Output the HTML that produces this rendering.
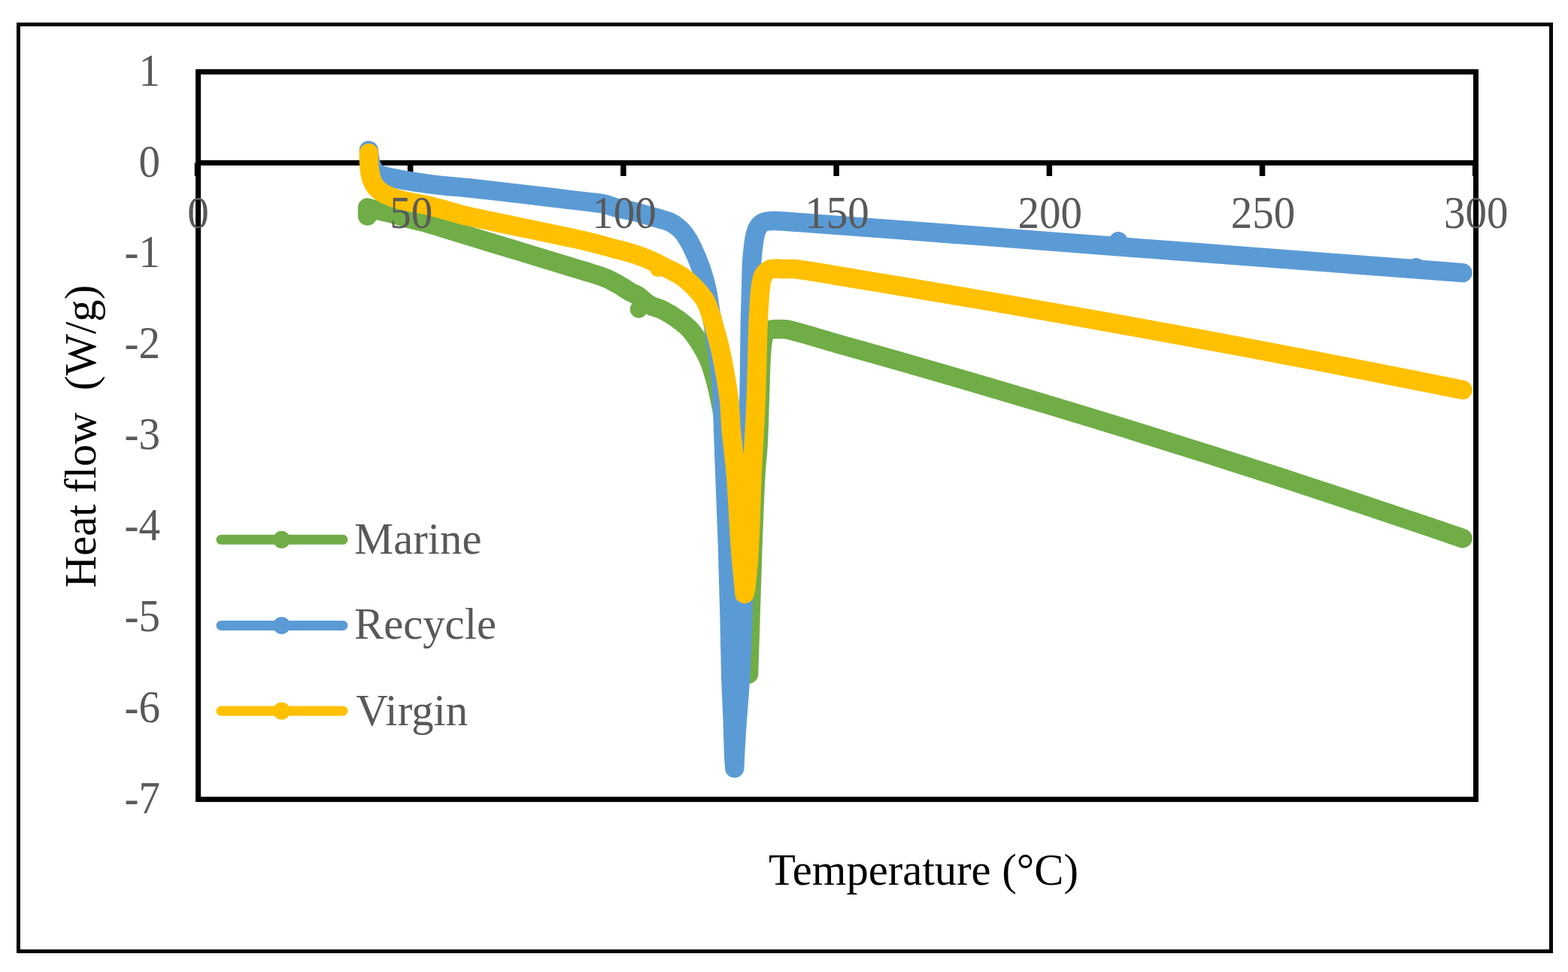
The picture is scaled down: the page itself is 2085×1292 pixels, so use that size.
<!DOCTYPE html>
<html><head><meta charset="utf-8"><style>
html,body{margin:0;padding:0;background:#fff;}
svg{display:block;}
text{font-family:"Liberation Serif","Times New Roman",serif;}
</style></head><body>
<svg width="2085" height="1292" viewBox="0 0 2085 1292">
<rect x="0" y="0" width="2085" height="1292" fill="#fff"/>
<rect x="24.5" y="32.5" width="2038" height="1232" fill="none" stroke="#000" stroke-width="5"/>
<rect x="263.5" y="95.5" width="1699" height="967" fill="none" stroke="#000" stroke-width="7"/>
<line x1="263.5" y1="216.5" x2="1962.5" y2="216.5" stroke="#000" stroke-width="7"/>
<line x1="262.5" y1="216.5" x2="262.5" y2="234" stroke="#000" stroke-width="7.5"/>
<line x1="545.7" y1="216.5" x2="545.7" y2="234" stroke="#000" stroke-width="7.5"/>
<line x1="828.9" y1="216.5" x2="828.9" y2="234" stroke="#000" stroke-width="7.5"/>
<line x1="1112.1" y1="216.5" x2="1112.1" y2="234" stroke="#000" stroke-width="7.5"/>
<line x1="1395.3" y1="216.5" x2="1395.3" y2="234" stroke="#000" stroke-width="7.5"/>
<line x1="1678.5" y1="216.5" x2="1678.5" y2="234" stroke="#000" stroke-width="7.5"/>
<line x1="1961.7" y1="216.5" x2="1961.7" y2="234" stroke="#000" stroke-width="7.5"/>
<g>
<path d="M488.6,287.0 C488.6,283.3 488.6,279.7 488.6,276.0 C492.4,277.0 496.2,278.1 500.0,279.0 C506.5,280.6 513.1,281.8 519.5,283.5 C527.8,285.7 536.0,288.5 544.3,290.8 C552.5,293.0 560.9,294.7 569.1,297.0 C577.4,299.3 585.6,302.0 593.8,304.5 C602.5,307.2 611.3,309.9 620.0,312.6 C646.7,320.7 673.3,328.8 700.0,336.9 C726.7,345.0 753.4,353.0 780.0,361.2 C788.3,363.8 796.7,366.1 804.8,369.3 C810.8,371.7 816.4,374.8 822.0,378.0 C827.5,381.1 832.5,384.9 838.0,388.0 C841.6,390.0 845.6,391.2 849.0,393.5 C852.6,395.9 855.5,399.4 859.0,402.0 C861.5,403.9 864.1,405.7 867.0,407.0 C871.2,408.9 875.9,409.4 880.0,411.5 C887.0,415.0 893.7,418.9 900.0,423.5 C907.1,428.8 914.5,434.1 920.0,441.0 C928.3,451.4 935.2,463.0 941.0,475.0 C945.9,485.2 948.8,496.4 951.8,507.3 C954.8,518.1 956.9,529.2 959.1,540.2 C961.7,553.4 964.1,566.7 966.0,580.0 C968.4,596.6 970.1,613.3 972.0,630.0 C974.7,653.3 977.7,676.6 980.0,700.0 C982.7,726.6 984.9,753.3 987.0,780.0 C988.9,803.3 990.3,826.7 992.0,850.0 C993.1,865.3 994.3,880.7 995.5,896.0 C996.3,870.7 997.2,845.3 998.0,820.0 C999.0,790.0 999.7,760.0 1000.8,730.0 C1002.0,696.7 1003.2,663.3 1005.0,630.0 C1005.6,617.6 1007.3,605.4 1008.0,593.0 C1009.1,572.0 1009.6,551.0 1010.3,530.0 C1010.9,513.0 1011.2,496.0 1012.0,479.0 C1012.4,471.3 1012.7,463.6 1013.8,456.0 C1014.4,451.9 1014.9,447.6 1017.0,444.0 C1018.5,441.4 1021.2,439.5 1024.0,438.5 C1027.5,437.3 1031.3,437.7 1035.0,437.6 C1038.7,437.5 1042.4,437.2 1046.0,437.8 C1052.8,439.0 1059.4,441.1 1066.0,443.0 C1081.4,447.3 1096.6,452.0 1112.0,456.4 C1141.3,464.8 1170.7,472.8 1200.0,481.2 C1233.4,490.7 1266.7,500.4 1300.0,510.2 C1333.4,520.0 1366.7,529.9 1400.0,539.9 C1433.4,549.9 1466.7,560.1 1500.0,570.4 C1533.4,580.7 1566.7,591.2 1600.0,601.7 C1633.4,612.3 1666.7,622.9 1700.0,633.7 C1733.4,644.5 1766.7,655.5 1800.0,666.6 C1833.4,677.7 1866.7,688.9 1900.0,700.2 C1915.0,705.3 1930.0,710.5 1945.0,715.6" fill="none" stroke="#70AD47" stroke-width="25.5" stroke-linejoin="round" stroke-linecap="round"/>
<circle cx="849.3" cy="411.2" r="11.5" fill="#70AD47"/>
<path d="M490.4,200.0 C491.1,205.0 491.3,210.1 492.5,215.0 C493.5,218.8 494.7,222.8 497.0,226.0 C499.0,228.7 502.0,230.6 505.0,232.0 C508.8,233.8 512.9,234.6 517.0,235.5 C525.9,237.5 535.0,239.2 544.0,240.7 C552.3,242.1 560.6,243.3 569.0,244.4 C577.3,245.5 585.7,246.4 594.0,247.2 C602.7,248.1 611.3,248.6 620.0,249.5 C646.7,252.4 673.3,255.5 700.0,258.6 C726.7,261.7 753.3,265.0 780.0,268.2 C787.7,269.1 795.4,269.5 803.0,271.0 C808.5,272.1 813.6,274.6 819.0,276.0 C826.6,277.9 834.4,279.1 842.0,281.0 C848.4,282.6 854.7,284.5 861.0,286.3 C866.3,287.8 871.7,289.1 877.0,290.7 C881.7,292.1 886.6,293.2 891.0,295.3 C895.0,297.2 898.6,299.7 902.0,302.5 C905.0,305.0 907.7,307.8 910.0,311.0 C913.7,316.2 917.0,321.6 919.8,327.3 C924.4,336.7 928.5,346.4 932.0,356.3 C935.3,365.7 937.9,375.3 940.0,385.0 C942.2,395.1 943.2,405.5 945.0,415.7 C946.0,421.1 947.5,426.4 948.4,431.8 C949.5,438.3 950.2,444.8 951.2,451.3 C952.1,456.9 953.1,462.4 954.0,468.0 C955.0,474.5 956.0,481.0 956.8,487.6 C957.6,494.6 958.3,501.5 958.9,508.5 C959.5,515.5 960.0,522.4 960.3,529.4 C960.9,542.9 961.1,556.5 961.6,570.0 C962.3,590.0 963.1,610.0 963.8,630.0 C965.1,663.3 966.5,696.7 967.6,730.0 C968.6,760.0 969.4,790.0 970.1,820.0 C970.8,846.7 971.0,873.3 971.8,900.0 C972.4,920.0 973.6,940.0 974.3,960.0 C974.8,973.3 975.0,986.7 975.5,1000.0 C975.8,1007.0 976.4,1014.0 976.8,1021.0 C977.1,1014.0 977.3,1007.0 977.7,1000.0 C978.4,986.7 979.3,973.3 980.2,960.0 C981.6,940.0 983.4,920.0 984.5,900.0 C986.0,873.3 987.0,846.7 987.9,820.0 C989.2,780.0 989.8,740.0 991.0,700.0 C991.8,673.3 993.2,646.7 994.0,620.0 C994.8,594.3 995.1,568.7 995.6,543.0 C995.9,529.0 996.3,515.0 996.5,501.0 C996.9,478.0 996.9,455.0 997.3,432.0 C997.6,418.0 998.1,404.0 998.5,390.0 C998.9,376.7 999.0,363.3 999.6,350.0 C999.9,343.3 1000.6,336.6 1001.4,330.0 C1002.1,324.3 1002.7,318.6 1004.0,313.0 C1004.9,309.2 1006.0,305.4 1008.0,302.0 C1009.4,299.6 1011.5,297.4 1014.0,296.0 C1016.4,294.6 1019.3,294.4 1022.0,294.0 C1024.6,293.6 1027.3,293.6 1030.0,293.6 C1033.3,293.6 1036.7,293.8 1040.0,294.0 C1093.3,297.9 1146.7,301.9 1200.0,305.9 C1266.7,310.9 1333.3,316.0 1400.0,321.1 C1466.7,326.2 1533.3,331.2 1600.0,336.3 C1666.7,341.4 1733.3,346.4 1800.0,351.5 C1848.3,355.2 1896.7,358.9 1945.0,362.6" fill="none" stroke="#5B9BD5" stroke-width="25.5" stroke-linejoin="round" stroke-linecap="round"/>
<circle cx="1487.0" cy="320.0" r="12.0" fill="#5B9BD5"/>
<circle cx="1883.0" cy="355.0" r="12.0" fill="#5B9BD5"/>
<path d="M490.4,203.4 C490.6,209.6 490.4,215.8 491.0,222.0 C491.6,227.4 492.3,232.9 494.0,238.0 C495.3,242.0 497.3,245.8 500.0,249.0 C502.7,252.3 506.3,254.9 510.0,257.0 C514.7,259.7 519.8,261.8 525.0,263.5 C531.5,265.6 538.3,267.0 545.0,268.5 C553.0,270.3 561.1,271.4 569.0,273.2 C577.4,275.1 585.7,277.5 594.0,279.7 C602.7,282.0 611.2,284.9 620.0,286.9 C646.6,292.9 673.3,298.1 700.0,303.7 C726.7,309.3 753.4,314.6 780.0,320.7 C792.5,323.6 804.8,327.3 817.2,330.6 C825.5,332.8 833.8,334.8 842.0,337.4 C849.4,339.8 856.8,342.4 864.0,345.5 C871.3,348.6 878.2,352.4 885.3,356.0 C891.5,359.1 897.9,361.9 903.8,365.5 C908.2,368.2 912.3,371.5 916.2,375.0 C920.6,378.9 924.7,383.1 928.6,387.5 C932.0,391.4 935.5,395.5 938.0,400.0 C940.6,404.7 942.2,409.9 944.0,415.0 C946.1,420.9 947.8,426.9 949.5,433.0 C952.9,445.3 956.4,457.5 959.0,470.0 C963.0,489.7 966.7,509.5 969.3,529.4 C971.1,542.9 970.9,556.5 972.1,570.0 C973.9,590.0 976.8,610.0 978.4,630.0 C981.0,663.3 982.2,696.7 984.6,730.0 C986.0,749.9 988.2,769.7 990.0,789.5 C990.7,786.3 991.7,783.2 992.0,780.0 C993.8,763.4 995.4,746.7 996.3,730.0 C998.1,696.7 998.7,663.3 1000.2,630.0 C1001.7,596.7 1004.0,563.4 1005.3,530.0 C1006.6,496.7 1007.0,463.3 1008.1,430.0 C1008.5,419.7 1009.1,409.3 1009.8,399.0 C1010.1,394.3 1010.4,389.6 1011.0,385.0 C1011.6,380.0 1012.0,374.8 1013.5,370.0 C1014.4,367.1 1015.8,364.2 1018.0,362.0 C1020.2,359.8 1023.0,358.1 1026.0,357.5 C1030.6,356.5 1035.3,357.3 1040.0,357.4 C1046.7,357.5 1053.4,357.0 1060.0,357.9 C1085.1,361.3 1110.0,366.0 1135.0,370.1 C1156.7,373.7 1178.3,377.3 1200.0,380.9 C1233.3,386.5 1266.7,392.1 1300.0,397.8 C1333.3,403.5 1366.7,409.3 1400.0,415.2 C1433.3,421.1 1466.7,427.1 1500.0,433.1 C1533.3,439.1 1566.7,445.2 1600.0,451.4 C1633.3,457.6 1666.7,463.9 1700.0,470.2 C1733.3,476.6 1766.7,483.0 1800.0,489.5 C1833.3,496.0 1866.7,502.7 1900.0,509.3 C1915.0,512.3 1930.0,515.3 1945.0,518.3" fill="none" stroke="#FFC000" stroke-width="25.5" stroke-linejoin="round" stroke-linecap="round"/>
<circle cx="874.5" cy="358.0" r="10.0" fill="#FFC000"/>
</g>
<g font-size="61" fill="#595959">
<text transform="translate(263.5,302.6) scale(0.935,1)" text-anchor="middle">0</text>
<text transform="translate(546.7,302.6) scale(0.935,1)" text-anchor="middle">50</text>
<text transform="translate(829.9,302.6) scale(0.935,1)" text-anchor="middle">100</text>
<text transform="translate(1113.1,302.6) scale(0.935,1)" text-anchor="middle">150</text>
<text transform="translate(1396.3,302.6) scale(0.935,1)" text-anchor="middle">200</text>
<text transform="translate(1679.5,302.6) scale(0.935,1)" text-anchor="middle">250</text>
<text transform="translate(1962.7,302.6) scale(0.935,1)" text-anchor="middle">300</text>
<text transform="translate(213,113.7) scale(0.935,1)" text-anchor="end">1</text>
<text transform="translate(213,234.6) scale(0.935,1)" text-anchor="end">0</text>
<text transform="translate(213,355.4) scale(0.935,1)" text-anchor="end">-1</text>
<text transform="translate(213,476.3) scale(0.935,1)" text-anchor="end">-2</text>
<text transform="translate(213,597.2) scale(0.935,1)" text-anchor="end">-3</text>
<text transform="translate(213,718.1) scale(0.935,1)" text-anchor="end">-4</text>
<text transform="translate(213,839.0) scale(0.935,1)" text-anchor="end">-5</text>
<text transform="translate(213,959.8) scale(0.935,1)" text-anchor="end">-6</text>
<text transform="translate(213,1080.7) scale(0.935,1)" text-anchor="end">-7</text>
</g>
<text x="1228" y="1176" font-size="58.7" fill="#000" text-anchor="middle">Temperature (°C)</text>
<text transform="translate(127,580) rotate(-90)" font-size="58.7" fill="#000" text-anchor="middle" xml:space="preserve">Heat flow  (W/g)</text>
<g stroke-linecap="round" stroke-width="13">
<line x1="294" y1="717.3" x2="456" y2="717.3" stroke="#70AD47"/>
<circle cx="374.5" cy="717.3" r="11.5" fill="#70AD47" stroke="none"/>
<line x1="294" y1="831.4" x2="456" y2="831.4" stroke="#5B9BD5"/>
<circle cx="374.5" cy="831.4" r="11.5" fill="#5B9BD5" stroke="none"/>
<line x1="294" y1="945" x2="456" y2="945" stroke="#FFC000"/>
<circle cx="374.5" cy="945" r="11.5" fill="#FFC000" stroke="none"/>
</g>
<g font-size="58.7" fill="#595959">
<text x="471" y="736.4">Marine</text>
<text x="471" y="848.9">Recycle</text>
<text x="473.5" y="963.6">Virgin</text>
</g>
</svg>
</body></html>
